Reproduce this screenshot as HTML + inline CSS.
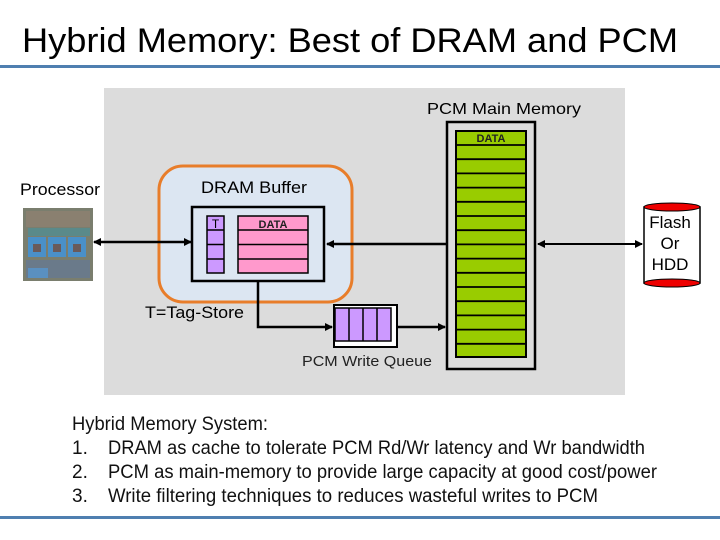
<!DOCTYPE html>
<html><head><meta charset="utf-8"><style>
html,body{margin:0;padding:0;background:#fff;}
svg{display:block;}
</style></head><body>
<svg width="720" height="540" viewBox="0 0 720 540" xmlns="http://www.w3.org/2000/svg" font-family="Liberation Sans, sans-serif">
<defs>
<marker id="ah" markerWidth="8" markerHeight="8" refX="7" refY="4" orient="auto-start-reverse" markerUnits="userSpaceOnUse"><path d="M0,0 L8,4 L0,8 z" fill="#000"/></marker>
</defs>
<text x="22" y="52" font-size="34" textLength="656" lengthAdjust="spacingAndGlyphs" fill="#000">Hybrid Memory: Best of DRAM and PCM</text>
<rect x="0" y="65" width="720" height="3" fill="#4f7fb0"/>
<rect x="104" y="88" width="521" height="307" fill="#dcdcdc"/>
<text x="427" y="114" font-size="16" textLength="154" lengthAdjust="spacingAndGlyphs">PCM Main Memory</text>
<!-- PCM -->
<rect x="447" y="122" width="88" height="247" fill="none" stroke="#000" stroke-width="2.5"/>
<rect x="456" y="131" width="70" height="226" fill="#99cc00" stroke="#000" stroke-width="2"/>
<g stroke="#000" stroke-width="1.8">
<line x1="456" x2="526" y1="145" y2="145"/><line x1="456" x2="526" y1="159.2" y2="159.2"/><line x1="456" x2="526" y1="173.4" y2="173.4"/><line x1="456" x2="526" y1="187.6" y2="187.6"/><line x1="456" x2="526" y1="201.8" y2="201.8"/><line x1="456" x2="526" y1="216" y2="216"/><line x1="456" x2="526" y1="230.2" y2="230.2"/><line x1="456" x2="526" y1="244.4" y2="244.4"/><line x1="456" x2="526" y1="258.6" y2="258.6"/><line x1="456" x2="526" y1="272.8" y2="272.8"/><line x1="456" x2="526" y1="287" y2="287"/><line x1="456" x2="526" y1="301.2" y2="301.2"/><line x1="456" x2="526" y1="315.4" y2="315.4"/><line x1="456" x2="526" y1="329.6" y2="329.6"/><line x1="456" x2="526" y1="343.8" y2="343.8"/>
</g>
<text x="491" y="142" font-size="11" font-weight="bold" text-anchor="middle" fill="#222">DATA</text>
<!-- DRAM buffer -->
<rect x="159" y="166" width="193" height="136" rx="24" fill="#dce6f2" stroke="#e87d2a" stroke-width="3"/>
<text x="201" y="193" font-size="17" textLength="106" lengthAdjust="spacingAndGlyphs">DRAM Buffer</text>
<rect x="192" y="207" width="132" height="74" fill="none" stroke="#000" stroke-width="2.5"/>
<rect x="207" y="216" width="17" height="57" fill="#cc99ff" stroke="#000" stroke-width="1.5"/>
<g stroke="#000" stroke-width="1.5"><line x1="207" x2="224" y1="230" y2="230"/><line x1="207" x2="224" y1="244.5" y2="244.5"/><line x1="207" x2="224" y1="259" y2="259"/></g>
<text x="215.5" y="228" font-size="12" text-anchor="middle">T</text>
<rect x="238" y="216" width="70" height="57" fill="#ff99cc" stroke="#000" stroke-width="1.5"/>
<g stroke="#000" stroke-width="1.5"><line x1="238" x2="308" y1="230" y2="230"/><line x1="238" x2="308" y1="244.5" y2="244.5"/><line x1="238" x2="308" y1="259" y2="259"/></g>
<text x="273" y="228" font-size="11" font-weight="bold" text-anchor="middle" fill="#222">DATA</text>
<text x="20" y="195" font-size="17" textLength="80" lengthAdjust="spacingAndGlyphs">Processor</text>
<text x="145" y="318" font-size="17" textLength="99" lengthAdjust="spacingAndGlyphs">T=Tag-Store</text>
<!-- Processor chip -->
<rect x="23" y="208" width="70" height="73" fill="#7a7e6e"/>
<rect x="26" y="211" width="64" height="16" fill="#8a8070"/>
<rect x="28" y="228" width="62" height="8" fill="#5a8a8a"/>
<rect x="28" y="237" width="18" height="20" fill="#4a90c8"/>
<rect x="48" y="237" width="18" height="20" fill="#4a90c8"/>
<rect x="68" y="237" width="18" height="20" fill="#4a90c8"/>
<rect x="33" y="244" width="8" height="8" fill="#6a5a5a"/><rect x="53" y="244" width="8" height="8" fill="#6a5a5a"/><rect x="73" y="244" width="8" height="8" fill="#6a5a5a"/>
<rect x="26" y="260" width="64" height="18" fill="#6a7a8a"/>
<rect x="28" y="268" width="20" height="10" fill="#5a90c0"/>
<!-- Connectors -->
<line x1="94" y1="242" x2="191" y2="242" stroke="#000" stroke-width="2.5" marker-start="url(#ah)" marker-end="url(#ah)"/>
<line x1="446" y1="244" x2="327" y2="244" stroke="#000" stroke-width="2.5" marker-end="url(#ah)"/>
<line x1="538" y1="244" x2="642" y2="244" stroke="#000" stroke-width="2" marker-start="url(#ah)" marker-end="url(#ah)"/>
<polyline points="258,281 258,327 332,327" fill="none" stroke="#000" stroke-width="2.5" marker-end="url(#ah)"/>
<line x1="397" y1="327" x2="445" y2="327" stroke="#000" stroke-width="2.5" marker-end="url(#ah)"/>
<!-- Write queue -->
<rect x="334" y="305" width="63" height="42" fill="#fff" stroke="#000" stroke-width="2"/>
<rect x="335" y="308" width="56" height="33" fill="#cc99ff" stroke="#000" stroke-width="1.5"/>
<g stroke="#000" stroke-width="1.5"><line x1="349" x2="349" y1="308" y2="341"/><line x1="363" x2="363" y1="308" y2="341"/><line x1="377" x2="377" y1="308" y2="341"/></g>
<text x="302" y="366" font-size="15" fill="#222" textLength="130" lengthAdjust="spacingAndGlyphs">PCM Write Queue</text>
<!-- Flash cylinder -->
<rect x="644" y="207" width="56" height="76" fill="#fff" stroke="#000" stroke-width="1.5"/>
<ellipse cx="672" cy="207" rx="28" ry="4" fill="#e00" stroke="#000" stroke-width="1"/>
<ellipse cx="672" cy="283" rx="28" ry="4" fill="#e00" stroke="#000" stroke-width="1"/>
<text x="670" y="228" font-size="17" text-anchor="middle">Flash</text>
<text x="670" y="249" font-size="17" text-anchor="middle">Or</text>
<text x="670" y="270" font-size="17" text-anchor="middle">HDD</text>
<!-- Bottom text -->
<g font-size="19" fill="#111">
<text x="72" y="430" textLength="196" lengthAdjust="spacingAndGlyphs">Hybrid Memory System:</text>
<text x="72" y="454">1.</text>
<text x="108" y="454" textLength="537" lengthAdjust="spacingAndGlyphs">DRAM as cache to tolerate PCM Rd/Wr latency and Wr bandwidth</text>
<text x="72" y="478">2.</text>
<text x="108" y="478" textLength="549" lengthAdjust="spacingAndGlyphs">PCM as main-memory to provide large capacity at good cost/power</text>
<text x="72" y="502">3.</text>
<text x="108" y="502" textLength="490" lengthAdjust="spacingAndGlyphs">Write filtering techniques to reduces wasteful writes to PCM</text>
</g>
<rect x="0" y="516" width="720" height="3" fill="#4f7fb0"/>
</svg>
</body></html>
